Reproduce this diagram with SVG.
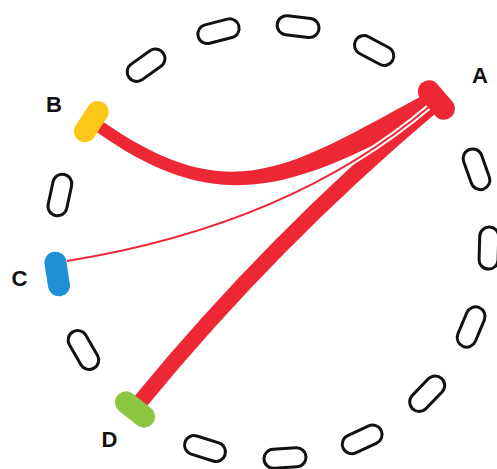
<svg xmlns="http://www.w3.org/2000/svg" width="497" height="469" viewBox="0 0 497 469">
<style>
.pill{fill:#fff;stroke:#111;stroke-width:3}
.cpill{stroke:none}
.chord{fill:none;stroke:#ED2733;stroke-linecap:butt}
.ribbon{fill:#ED2733;stroke:none}
.halo{fill:none;stroke:#fff}
.lbl{font-family:"Liberation Sans",Arial,sans-serif;font-weight:bold;font-size:22px;fill:#111;text-anchor:middle}
</style>
<defs>
<rect id="p" x="-21" y="-9.5" width="42" height="19" rx="9.5"/>
<rect id="cp" x="-22.5" y="-11" width="45" height="22" rx="11"/>
</defs>
<rect width="497" height="469" fill="#fff"/>
<g id="connectors">
<path id="A-D" class="chord" stroke-width="16" d="M432,106 Q272,241 140,402"/>
<path id="A-B" class="ribbon" d="M424.8,94.3 C288.3,168.2 231,210.3 103.4,122.1 L96.6,131.9 C223,221.7 297.7,185.8 435.2,113.7 Z"/>
<path class="halo" stroke-width="6" d="M430,106 Q290,225 67,261"/>
<path id="A-C" class="chord" stroke-width="2" d="M430,106 Q290,225 67,261"/>
</g>
<g id="n0" transform="translate(298.1,26.6) rotate(6.9)"><use href="#p" class="pill"/></g>
<g id="n1" transform="translate(374.1,50.5) rotate(28.08)"><use href="#p" class="pill"/></g>
<g id="n3" transform="translate(476.5,169.3) rotate(70.43)"><use href="#p" class="pill"/></g>
<g id="n4" transform="translate(488.9,248.1) rotate(91.6)"><use href="#p" class="pill"/></g>
<g id="n5" transform="translate(471.1,327) rotate(112.78)"><use href="#p" class="pill"/></g>
<g id="n6" transform="translate(427.2,393.7) rotate(133.96)"><use href="#p" class="pill"/></g>
<g id="n7" transform="translate(362.2,439.4) rotate(155.13)"><use href="#p" class="pill"/></g>
<g id="n8" transform="translate(285,458) rotate(176.31)"><use href="#p" class="pill"/></g>
<g id="n9" transform="translate(205,448.5) rotate(197.49)"><use href="#p" class="pill"/></g>
<g id="n11" transform="translate(83.4,350) rotate(239.84)"><use href="#p" class="pill"/></g>
<g id="n13" transform="translate(59.9,195) rotate(282.19)"><use href="#p" class="pill"/></g>
<g id="n15" transform="translate(146.1,65.2) rotate(324.54)"><use href="#p" class="pill"/></g>
<g id="n16" transform="translate(218.5,31.2) rotate(345.72)"><use href="#p" class="pill"/></g>
<g id="node-A"><use href="#cp" class="cpill" fill="#ED2733" transform="translate(436.4,100) rotate(49.25)"/><text class="lbl" x="480" y="83">A</text></g>
<g id="node-B"><use href="#cp" class="cpill" fill="#FCC716" transform="translate(91.3,121.6) rotate(303.37)"/><text class="lbl" x="54" y="111.5">B</text></g>
<g id="node-C"><use href="#cp" class="cpill" fill="#1F8FD6" transform="translate(57.2,274) rotate(261.02)"/><text class="lbl" x="19.5" y="285.5">C</text></g>
<g id="node-D"><use href="#cp" class="cpill" fill="#8DC641" transform="translate(135,409.5) rotate(218.66)"/><text class="lbl" x="109.5" y="446.5">D</text></g>
</svg>
